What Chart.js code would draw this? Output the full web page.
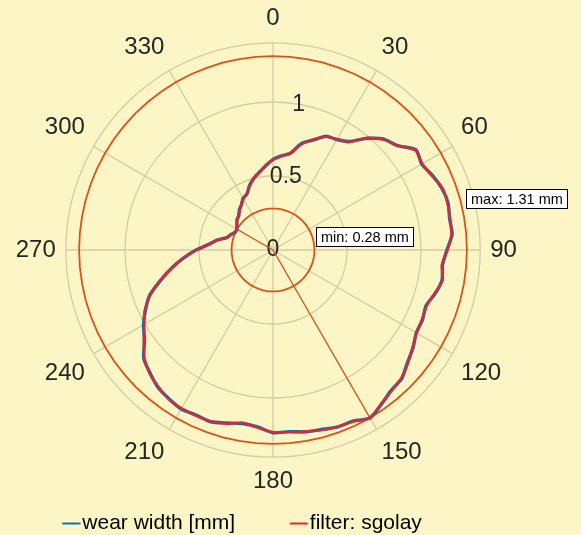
<!DOCTYPE html>
<html>
<head>
<meta charset="utf-8">
<script src="https://cdn.jsdelivr.net/npm/chart.js@4.4.0/dist/chart.umd.min.js"></script>
<style>
  html, body { margin: 0; padding: 0; background: #fcf5c5; }
</style>
</head>
<body>
<canvas id="polarChart" width="581" height="535"></canvas>
<script>
// angoli (gradi) ogni 5
const angles = [0,5,10,15,20,25,30,35,40,45,50,55,60,65,70,75,80,85,90,95,100,105,110,115,
  120,125,130,135,140,145,150,155,160,165,170,175,180,185,190,195,200,205,210,215,220,225,230,235,
  240,245,250,255,260,265,270,275,280,285,290,295,300,305,310,315,320,325,330,335,340,345,350,355];

// larghezza usura misurata [mm]
const wearWidth = [0.612,0.638,0.662,0.745,0.79,0.848,0.862,0.895,0.985,1.06,1.097,1.18,
  1.16,1.19,1.215,1.225,1.212,1.215,1.175,1.15,1.16,1.135,1.10,1.115,
  1.118,1.155,1.185,1.23,1.24,1.275,1.31,1.276,1.273,1.256,1.248,1.232,
  1.235,1.20,1.19,1.21,1.235,1.23,1.24,1.226,1.21,1.175,1.14,1.06,
  1.01,0.95,0.885,0.785,0.695,0.605,0.52,0.435,0.385,0.322,0.304,0.282,
  0.283,0.297,0.318,0.327,0.354,0.372,0.404,0.417,0.464,0.50,0.534,0.57];

// filtro sgolay
const wearFiltered = [0.61,0.635,0.665,0.74,0.795,0.845,0.865,0.89,0.99,1.055,1.10,1.175,
  1.165,1.185,1.22,1.22,1.215,1.21,1.18,1.145,1.165,1.13,1.105,1.11,
  1.12,1.15,1.19,1.225,1.245,1.27,1.31,1.28,1.27,1.26,1.245,1.235,
  1.23,1.205,1.185,1.215,1.23,1.235,1.235,1.23,1.205,1.18,1.135,1.065,
  1.005,0.955,0.88,0.79,0.69,0.61,0.515,0.44,0.38,0.325,0.30,0.285,
  0.28,0.30,0.315,0.33,0.35,0.375,0.40,0.42,0.46,0.505,0.53,0.575];

const wearMin = 0.28, minAt = 300;
const wearMax = 1.31, maxAt = 150;

// tick del raggio
const rTicks = [0, 0.5, 1];
const rTickLabels = ['0', '0.5', '1'];

const fontFam = '"Liberation Sans", Arial, sans-serif';
const gridColor = '#d4cda3';
const refColor = '#d95319';
const blue = '#0072bd';
const red = '#e3262b';

// cerchi min / max e raggio verso il punto
const minRing = angles.map(() => wearMin);
const maxRing = angles.map(() => wearMax);
const spoke = (at, val) => angles.map((a, i) => a === at ? val : (angles[i - 1] === at ? 0 : null));

// segno della legenda: trattino corto attaccato al testo
function legendMark(color) {
  const c = document.createElement('canvas');
  c.width = 36; c.height = 4;
  const g = c.getContext('2d');
  g.strokeStyle = color;
  g.lineWidth = 2;
  g.beginPath();
  g.moveTo(17.5, 2);
  g.lineTo(35.5, 2);
  g.stroke();
  return c;
}

// testi: tick del raggio + box min/max
const textPlugin = {
  id: 'textPlugin',
  beforeDatasetsDraw(chart) {
    const r = chart.scales.r;
    const ctx = chart.ctx;
    ctx.save();
    ctx.font = '23px ' + fontFam;
    ctx.fillStyle = '#262626';
    ctx.textAlign = 'center';
    ctx.textBaseline = 'middle';
    rTicks.forEach((v, i) => {
      const p = r.getPointPositionForValue(2, v);
      ctx.fillText(rTickLabels[i], p.x, p.y);
    });
    ctx.restore();
  },
  afterDatasetsDraw(chart) {
    const r = chart.scales.r;
    const ctx = chart.ctx;
    ctx.save();
    ctx.font = '14.5px ' + fontFam;
    ctx.textBaseline = 'middle';
    ctx.textAlign = 'left';
    const box = (txt, val, dx, dy) => {
      const p = r.getPointPositionForValue(18, val);
      const w = Math.round(ctx.measureText(txt).width + 9);
      const x = Math.round(p.x + dx) + 0.5, y = Math.round(p.y + dy) + 0.5;
      ctx.fillStyle = '#fff';
      ctx.fillRect(x, y, w, 19);
      ctx.strokeStyle = '#000';
      ctx.lineWidth = 1;
      ctx.strokeRect(x, y, w, 19);
      ctx.fillStyle = '#000';
      ctx.fillText(txt, x + 4.5, y + 10);
    };
    box('max: ' + wearMax + ' mm', wearMax, -1, -61);
    box('min: ' + wearMin + ' mm', wearMin, 2, -23);
    ctx.restore();
  }
};

let ctx = document.getElementById('polarChart').getContext('2d');

let myPolar = new Chart(ctx, {
  type: 'radar',
  data: {
    labels: angles,
    datasets: [
      { label: 'wear width [mm]', data: wearWidth, borderColor: blue, backgroundColor: blue,
        borderWidth: 3.4, tension: 0.2, pointStyle: legendMark(blue), order: 2 },
      { label: 'filter: sgolay', data: wearFiltered, borderColor: red, backgroundColor: red,
        borderWidth: 2.4, tension: 0.2, pointStyle: legendMark(red), order: 1 },
      { label: 'min', data: minRing, borderColor: refColor, borderWidth: 1.8, order: 3 },
      { label: 'max', data: maxRing, borderColor: refColor, borderWidth: 1.8, order: 3 },
      { label: 'minLine', data: spoke(minAt, wearMin), borderColor: refColor, borderWidth: 1.2, order: 3 },
      { label: 'maxLine', data: spoke(maxAt, wearMax), borderColor: refColor, borderWidth: 1.2, order: 3 }
    ]
  },
  options: {
    responsive: false,
    animation: false,
    layout: { padding: { left: 0, right: 47, top: 4, bottom: -9 } },
    elements: { point: { radius: 0, hoverRadius: 0 }, line: { fill: false, tension: 0 } },
    scales: {
      r: {
        min: 0,
        max: 1.4,
        startAngle: 0,
        ticks: { display: false, stepSize: 0.5 },
        grid: { circular: true, color: gridColor, lineWidth: 1.3 },
        angleLines: { color: gridColor, lineWidth: (c) => c.index % 6 === 0 ? 1.3 : 0 },
        pointLabels: {
          display: true,
          padding: 10,
          color: '#262626',
          font: { size: 24, family: fontFam },
          callback: (label, i) => i % 6 === 0 ? String(label) : ''
        }
      }
    },
    plugins: {
      tooltip: { enabled: false },
      legend: {
        position: 'bottom',
        labels: {
          usePointStyle: true,
          pointStyleWidth: 18,
          color: '#000',
          padding: 17,
          font: { size: 21, family: fontFam },
          filter: (item) => item.datasetIndex < 2,
          sort: (a, b) => a.datasetIndex - b.datasetIndex,
          generateLabels: (chart) => {
            const items = Chart.defaults.plugins.legend.labels.generateLabels(chart);
            // spazi per la distanza tra le voci come nell'originale
            items.forEach((it) => {
              if (it.datasetIndex === 0) it.text += '     ';
              if (it.datasetIndex === 1) it.text += '          ';
            });
            return items;
          }
        }
      }
    }
  },
  plugins: [textPlugin]
});
</script>
</body>
</html>
